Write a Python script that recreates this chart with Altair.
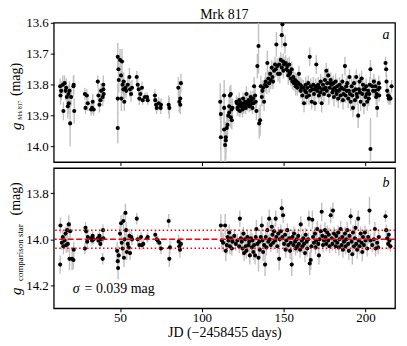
import altair as alt
import pandas as pd

# ---------------- Panel a : Mrk 817 ----------------
jd_a = [
    13.4, 13.6, 14.0, 15.0, 15.4, 16.1, 16.7, 17.1, 17.5, 18.1,
    18.5, 18.7, 19.1, 19.5, 20.1, 21.5, 21.7, 22.0,
    28.5, 28.9, 29.7, 30.3, 32.3, 32.9, 33.3, 33.9, 36.4, 36.8,
    37.4, 38.0, 38.4, 39.4, 39.8, 39.8, 40.0,
    48.6, 48.6, 48.6, 49.0, 49.2, 50.0, 50.6, 50.8, 51.2, 51.6,
    52.0, 52.2, 52.6, 53.3, 53.7, 54.7, 55.7, 56.1, 56.7, 57.3,
    60.2, 60.8, 61.4, 61.8, 62.4, 63.4, 63.8, 65.2, 66.5, 66.9,
    71.3, 71.5, 72.0, 72.4, 73.6, 75.0, 74.8,
    79.7, 80.1,
    85.6, 86.2, 86.8, 87.2, 86.8,
    111.2, 111.6, 111.6, 113.6, 113.6, 113.6, 114.2, 114.6, 114.6, 115.2,
    115.7, 116.1, 116.7, 116.7, 117.1, 117.7, 117.7, 118.1, 118.3, 118.7,
    121.1, 121.7, 122.4, 122.8, 123.2, 123.8, 124.4, 124.8, 125.2, 125.8,
    126.4, 126.8, 127.2, 127.8, 128.5, 128.9, 129.3, 129.9, 130.5, 130.9,
    131.3, 131.9, 132.5, 132.9, 133.3, 133.9, 134.6, 135.0, 135.6, 136.0,
    136.6, 137.0, 137.4, 138.0, 138.6, 139.0, 139.6, 140.0, 140.6, 141.1,
    141.7, 142.1, 142.7, 143.1, 143.5, 144.1, 144.7, 145.1, 145.5, 146.1,
    146.5, 147.2, 147.6, 148.2, 148.8, 148.8, 149.2, 149.6, 149.8, 150.2,
    150.8, 151.2, 151.6, 152.2, 152.8, 153.3, 153.7, 154.3, 154.9, 155.3,
    155.9, 156.3, 156.9, 157.3, 157.9, 158.3, 158.9, 159.3, 160.0, 160.4,
    161.0, 161.4, 162.0, 162.4, 163.0, 163.4, 164.0, 164.4, 165.0, 165.4,
    165.9, 166.5, 167.1, 167.5, 168.1, 168.5, 169.1, 169.5, 169.9, 170.5,
    171.1, 171.5, 171.9, 172.6, 173.2, 173.6, 174.0, 174.6, 175.2, 175.6,
    176.0, 176.6, 177.2, 177.6, 178.0, 178.7, 179.3, 179.7, 180.3, 180.7,
    181.3, 181.7, 182.3, 182.7, 183.3, 183.7, 184.1, 184.8, 185.4, 185.8,
    186.2, 186.8, 187.4, 187.8, 188.2, 188.8, 189.4, 189.8, 190.2, 190.9,
    191.5, 191.9, 192.3, 192.9, 193.5, 193.9, 194.3, 194.9, 195.5, 195.9,
    196.3, 197.0, 197.6, 198.0, 198.4, 199.0, 199.6, 200.0, 200.4, 201.0,
    201.6, 202.0, 202.6, 203.0, 203.0, 204.1, 205.1, 205.7, 206.1, 206.5,
    207.1, 207.7, 208.1, 208.5, 212.2, 212.6, 212.8, 213.2, 213.8, 214.2,
    214.6, 215.2, 215.9,
    121.4, 122.0, 123.5, 124.1, 125.5, 126.1, 127.5, 129.6, 130.2, 131.6,
    152.5, 154.0, 156.0, 158.0, 160.7, 163.7, 166.2, 168.8, 170.2, 172.3,
    174.3, 176.3, 178.4, 180.0, 182.0, 184.4, 186.5, 188.5, 190.5, 192.6,
    194.6, 196.6, 198.7, 200.7, 202.3, 204.6, 206.8, 208.3,
]
mag_a = [
    13.805, 13.835, 13.82, 13.80, 13.885, 13.795, 13.82, 13.81, 13.84, 13.87,
    13.83, 13.86, 13.82, 13.925, 13.84, 13.805, 13.80, 13.885,
    13.83, 13.875, 13.835, 13.86, 13.88, 13.875, 13.855, 13.88, 13.79, 13.835,
    13.865, 13.85, 13.82, 13.84, 13.80, 13.815, 13.83,
    13.71, 13.94, 13.845, 13.75, 13.785, 13.72, 13.77, 13.845, 13.725, 13.80,
    13.815, 13.79, 13.855, 13.81, 13.82, 13.80, 13.775, 13.815, 13.83, 13.81,
    13.775, 13.80, 13.815, 13.845, 13.83, 13.81, 13.85, 13.84, 13.84, 13.85,
    13.835, 13.85, 13.865, 13.875, 13.86, 13.865, 13.875,
    13.865, 13.875,
    13.81, 13.855, 13.845, 13.795, 13.865,
    13.855, 13.895, 13.97, 13.835, 13.875, 13.945, 13.995, 13.97, 13.98, 13.94,
    13.93, 13.90, 13.87, 13.89, 13.835, 13.83, 13.905, 13.88, 13.915, 13.875,
    13.855, 13.875, 13.865, 13.85, 13.885, 13.87, 13.86, 13.88, 13.845, 13.865,
    13.855, 13.875, 13.83, 13.865, 13.85, 13.87, 13.855, 13.84, 13.86, 13.875,
    13.845, 13.805, 13.835, 13.855, 13.885, 13.74, 13.675, 13.925, 13.915, 13.805,
    13.84, 13.82, 13.81, 13.855, 13.80, 13.79, 13.805, 13.73, 13.78, 13.795,
    13.765, 13.785, 13.745, 13.775, 13.79, 13.755, 13.735, 13.75, 13.67, 13.74,
    13.765, 13.735, 13.765, 13.72, 13.64, 13.745, 13.605, 13.725, 13.755, 13.735,
    13.67, 13.73, 13.75, 13.74, 13.77, 13.735, 13.765, 13.78, 13.75, 13.79,
    13.775, 13.795, 13.785, 13.805, 13.79, 13.81, 13.795, 13.765, 13.80, 13.82,
    13.805, 13.835, 13.81, 13.86, 13.82, 13.80, 13.84, 13.81, 13.795, 13.835,
    13.71, 13.805, 13.855, 13.815, 13.80, 13.83, 13.86, 13.805, 13.735, 13.82,
    13.80, 13.835, 13.81, 13.79, 13.86, 13.815, 13.80, 13.83, 13.785, 13.81,
    13.755, 13.795, 13.77, 13.835, 13.81, 13.785, 13.80, 13.825, 13.795, 13.84,
    13.81, 13.79, 13.83, 13.805, 13.845, 13.82, 13.80, 13.835, 13.81, 13.79,
    13.85, 13.815, 13.74, 13.835, 13.805, 13.795, 13.845, 13.82, 13.775, 13.855,
    13.805, 13.835, 13.875, 13.795, 13.85, 13.815, 13.775, 13.84, 13.90, 13.815,
    13.79, 13.855, 13.78, 13.83, 13.80, 13.865, 13.815, 13.84, 13.805, 13.855,
    13.82, 13.845, 13.80, 13.75, 14.008, 13.805, 13.79, 13.82, 13.805, 13.84,
    13.875, 13.815, 13.795, 13.81, 13.73, 13.75, 13.79, 13.82, 13.835, 13.845,
    13.84, 13.845, 13.805,
    13.86, 13.88, 13.86, 13.87, 13.875, 13.86, 13.855, 13.865, 13.85, 13.86,
    13.755, 13.76, 13.79, 13.80, 13.81, 13.825, 13.82, 13.815, 13.81, 13.825,
    13.815, 13.82, 13.795, 13.815, 13.82, 13.815, 13.83, 13.82, 13.83, 13.82,
    13.83, 13.825, 13.815, 13.83, 13.83, 13.82, 13.83, 13.835,
]
err_a = [
    .025, .03, .03, .03, .03, .025, .03, .03, .035, .04,
    .03, .035, .03, .075, .03, .035, .03, .04,
    .02, .02, .02, .025, .02, .02, .025, .02, .02, .025,
    .025, .02, .025, .03, .03, .025, .025,
    .045, .05, .05, .04, .04, .035, .035, .04, .04, .03,
    .03, .03, .03, .025, .025, .025, .03, .025, .025, .025,
    .02, .02, .02, .02, .02, .02, .015, .015, .015, .015,
    .02, .02, .02, .02, .02, .02, .02,
    .03, .035,
    .035, .035, .03, .03, .03,
    .06, .06, .08, .05, .05, .06, .06, .05, .06, .04,
    .04, .035, .03, .03, .03, .03, .035, .03, .03, .03,
    .02, .025, .02, .025, .02, .025, .02, .025, .02, .025,
    .025, .02, .025, .02, .025, .02, .025, .02, .025, .02,
    .025, .03, .03, .025, .03, .04, .09, .05, .05, .035,
    .03, .03, .025, .03, .025, .03, .025, .04, .025, .03,
    .025, .03, .025, .03, .025, .03, .025, .025, .04, .025,
    .025, .025, .03, .025, .04, .025, .03, .025, .025, .025,
    .03, .025, .025, .025, .03, .025, .025, .025, .025, .025,
    .025, .025, .025, .03, .025, .025, .03, .025, .025, .025,
    .025, .025, .025, .03, .025, .025, .025, .025, .025, .03,
    .03, .025, .025, .025, .025, .03, .025, .025, .03, .025,
    .025, .025, .025, .025, .03, .025, .025, .025, .025, .025,
    .025, .025, .025, .03, .025, .025, .025, .025, .025, .03,
    .025, .025, .025, .025, .03, .025, .025, .025, .025, .025,
    .03, .025, .03, .025, .025, .025, .03, .025, .025, .03,
    .025, .025, .03, .025, .025, .025, .025, .025, .04, .025,
    .025, .03, .025, .025, .025, .03, .025, .025, .025, .03,
    .025, .025, .025, .03, .1, .025, .025, .025, .025, .025,
    .03, .025, .025, .025, .02, .025, .025, .025, .025, .02,
    .02, .02, .02,
    .02, .02, .02, .02, .02, .02, .02, .02, .02, .02,
    .02, .02, .02, .02, .02, .02, .02, .02, .02, .02,
    .02, .02, .02, .02, .02, .02, .02, .02, .02, .02,
    .02, .02, .02, .02, .02, .02, .02, .02,
]

# ---------------- Panel b : comparison star ----------------
jd_b = [
    13.4, 13.6, 14.4, 15.0, 15.4, 16.1, 16.7, 17.1, 17.7, 18.1,
    18.7, 19.1, 19.5, 20.7, 21.5, 21.7,
    28.5, 28.9, 29.3, 29.9, 30.3, 32.3, 32.9, 33.3, 33.9, 36.4,
    36.8, 37.4, 38.0, 38.4, 39.4, 39.6, 39.8,
    48.2, 48.6, 48.8, 49.2, 50.0, 50.6, 51.0, 51.6, 52.0, 52.4,
    52.8, 53.3, 53.7, 54.1, 54.7, 55.3, 55.7, 56.1, 56.9, 57.3,
    60.2, 60.8, 61.8, 62.8, 63.4, 64.2, 66.5, 66.9,
    71.5, 72.4, 73.0, 74.0, 75.0,
    79.7, 80.1, 80.5,
    85.8, 86.2, 86.6, 87.2,
    111.6, 112.2, 113.0, 114.2, 114.6, 115.2, 115.7, 116.3, 116.7, 117.1,
    117.7, 118.3, 118.7, 119.8, 120.7, 121.7, 122.8, 123.2, 123.8, 124.4,
    124.8, 125.4, 125.8, 126.4, 126.8, 127.2, 127.8, 128.5, 128.9, 129.3,
    129.9, 130.5, 130.9, 131.5, 131.9, 132.5, 132.9, 133.3, 133.9, 134.6,
    135.0, 135.4, 136.0, 136.6, 137.0, 137.4, 138.0, 138.6, 139.0, 139.4,
    140.0, 140.6, 141.1, 141.5, 142.1, 142.7, 143.1, 143.5, 144.1, 144.7,
    145.1, 145.5, 146.1, 146.7, 147.2, 147.6, 148.2, 148.8, 149.2, 149.6,
    150.2, 150.8, 151.2, 151.6, 152.2, 152.8, 153.3, 153.9, 154.3, 154.9,
    155.3, 155.9, 156.3, 156.9, 157.3, 157.9, 158.3, 158.9, 159.3, 160.0,
    160.4, 161.0, 161.4, 162.0, 162.4, 163.0, 163.4, 164.0, 164.4, 165.0,
    165.4, 165.9, 166.5, 166.9, 167.5, 167.9, 168.5, 169.1, 169.5, 169.9,
    170.5, 171.1, 171.5, 171.9, 172.6, 173.2, 173.6, 174.0, 174.6, 175.2,
    175.6, 176.0, 176.6, 177.2, 177.6, 178.0, 178.7, 179.3, 179.7, 180.1,
    180.7, 181.3, 181.7, 182.1, 182.7, 183.3, 183.7, 184.1, 184.8, 185.4,
    185.8, 186.2, 186.8, 187.4, 187.8, 188.2, 188.8, 189.4, 189.8, 190.2,
    190.9, 191.5, 191.9, 192.3, 192.9, 193.5, 193.9, 194.3, 194.9, 195.5,
    195.9, 196.3, 197.0, 197.6, 198.0, 198.4, 199.0, 199.6, 200.0, 201.0,
    201.6, 202.4, 203.0, 204.1, 205.1, 205.7, 206.1, 207.1, 207.7, 208.1,
    212.2, 212.6, 213.2, 213.8, 214.2, 214.6, 215.2,
]
mag_b = [
    14.11, 13.94, 14.015, 13.99, 14.03, 14.005, 13.975, 14.025, 13.96, 14.02,
    13.935, 14.085, 13.965, 14.085, 14.09, 14.045,
    14.04, 13.95, 13.965, 14.01, 13.99, 13.995, 14.005, 13.985, 14.0, 13.995,
    14.005, 13.985, 14.02, 14.0, 14.085, 13.96, 13.995,
    14.05, 14.095, 14.125, 14.07, 13.975, 13.93, 14.015, 14.04, 13.92, 14.08,
    14.0, 13.885, 13.96, 14.055, 14.02, 14.035, 13.985, 14.06, 13.99, 14.0,
    13.91, 14.0, 14.025, 13.99, 14.025, 14.02, 13.995, 13.99,
    13.98, 14.0, 14.005, 14.015, 14.04,
    13.92, 14.085, 14.035,
    14.01, 14.03, 14.045, 14.02,
    13.94, 14.005, 14.015, 13.94, 14.05, 14.025, 13.99, 14.005, 13.97, 14.03,
    13.995, 14.04, 14.01, 13.985, 14.02, 14.005, 14.03, 13.91, 13.995, 14.01,
    14.04, 13.975, 14.06, 14.0, 14.03, 14.05, 13.99, 14.025, 14.01, 14.07,
    13.995, 14.035, 14.005, 14.055, 14.025, 14.07, 13.99, 13.955, 14.02, 14.08,
    14.01, 14.045, 13.99, 13.94, 14.005, 14.055, 14.025, 14.11, 13.99, 14.035,
    13.96, 14.01, 13.91, 14.0, 14.025, 13.945, 13.98, 14.015, 13.965, 14.005,
    13.91, 13.99, 14.03, 13.975, 14.085, 14.0, 13.965, 13.865, 13.99, 13.895,
    14.02, 13.98, 14.045, 14.005, 13.96, 14.025, 13.995, 14.05, 14.015, 14.11,
    13.99, 14.025, 13.975, 14.01, 14.04, 14.0, 14.03, 13.985, 14.02, 14.045,
    13.935, 14.005, 14.03, 13.995, 14.02, 14.06, 13.98, 14.01, 14.04, 14.0,
    13.91, 14.105, 14.09, 14.03, 13.915, 13.99, 14.015, 13.975, 14.035, 14.005,
    13.955, 14.02, 14.07, 14.0, 13.965, 13.88, 13.985, 14.025, 14.005, 13.96,
    13.99, 14.02, 13.97, 14.005, 13.98, 14.03, 13.895, 13.995, 14.02, 13.875,
    13.975, 14.005, 14.03, 13.985, 14.015, 13.97, 14.035, 14.0, 13.955, 14.025,
    13.99, 14.045, 14.01, 13.975, 14.03, 14.0, 13.96, 14.02, 14.05, 13.985,
    13.90, 14.01, 14.065, 13.97, 14.03, 13.995, 13.95, 14.02, 14.045, 13.91,
    14.005, 14.03, 13.975, 14.015, 14.055, 13.99, 14.025, 13.97, 14.005, 14.04,
    13.99, 13.875, 14.005, 14.025, 14.0, 13.955, 14.04, 14.015, 14.035, 13.99,
    13.90, 13.96, 13.995, 14.02, 13.98, 14.005, 14.03,
]
err_b = [
    .04, .035, .03, .03, .035, .03, .03, .035, .03, .035,
    .04, .05, .04, .05, .04, .035,
    .025, .025, .025, .025, .025, .02, .02, .02, .02, .02,
    .02, .02, .02, .02, .025, .025, .02,
    .04, .045, .05, .04, .035, .035, .035, .04, .035, .04,
    .035, .04, .035, .035, .03, .03, .03, .03, .025, .025,
    .025, .02, .02, .02, .02, .02, .02, .02,
    .02, .02, .02, .02, .025,
    .03, .035, .03,
    .03, .03, .035, .03,
    .05, .04, .04, .05, .045, .04, .035, .035, .035, .035,
    .03, .03, .03, .03, .03, .03, .03, .035, .03, .03,
    .03, .03, .035, .03, .03, .035, .03, .03, .03, .04,
    .03, .03, .03, .035, .03, .04, .03, .04, .03, .06,
    .03, .035, .03, .04, .03, .04, .03, .05, .03, .035,
    .035, .03, .04, .03, .03, .035, .03, .03, .03, .03,
    .035, .03, .03, .03, .05, .03, .03, .04, .03, .035,
    .03, .03, .035, .03, .03, .03, .03, .035, .03, .05,
    .03, .03, .03, .03, .03, .03, .03, .03, .03, .035,
    .035, .03, .03, .03, .03, .04, .03, .03, .035, .03,
    .035, .05, .045, .03, .04, .03, .03, .03, .03, .03,
    .035, .03, .04, .03, .03, .04, .03, .03, .03, .035,
    .03, .03, .03, .03, .03, .03, .035, .03, .03, .035,
    .03, .03, .03, .03, .03, .03, .035, .03, .035, .03,
    .03, .035, .03, .03, .035, .03, .035, .03, .04, .03,
    .035, .03, .045, .03, .035, .03, .035, .03, .04, .035,
    .03, .035, .03, .03, .04, .03, .035, .03, .03, .035,
    .03, .06, .03, .03, .03, .03, .035, .03, .03, .03,
    .025, .025, .025, .025, .025, .025, .025,
]

mean_b = [14.0]
sigma_b = [13.961, 14.039]
x_ticks = [50, 100, 150, 200]
y_ticks_a = [13.6, 13.7, 13.8, 13.9, 14.0]
y_ticks_b = [13.8, 14.0, 14.2]
y_dom_a = [13.6, 14.05]
y_dom_b = [13.69, 14.3]

FONT = "Liberation Serif"
W = 343


def make_df(j, m, e):
    n = min(len(j), len(m), len(e))
    return pd.DataFrame({"jd": j[:n], "mag": m[:n], "err": e[:n]})


def text_layer(txt, x, y, size, angle=0, italic=False, align="center", baseline="middle"):
    kw = dict(font=FONT, fontSize=size, color="black", align=align, baseline=baseline)
    if angle:
        kw["angle"] = angle
    if italic:
        kw["fontStyle"] = "italic"
    return alt.Chart(pd.DataFrame({"t": [txt]})).mark_text(**kw).encode(
        text="t:N", x=alt.value(x), y=alt.value(y)
    )


xscale = alt.Scale(domain=[9.5, 218], nice=False, zero=False)


def panel(df, ydom, yticks, bottom, extra):
    yscale = alt.Scale(domain=ydom, reverse=True, nice=False, zero=False)
    if bottom:
        xaxis = alt.Axis(values=x_ticks, title="JD (\u22122458455 days)", labelPadding=0,
                         titlePadding=1, format="d", labelOverlap=False)
    else:
        xaxis = alt.Axis(values=x_ticks, labels=False, title=None)
    yaxis = alt.Axis(values=yticks, title=None, format=".1f", labelPadding=2,
                     labelOverlap=False, labelFlush=False)
    base = alt.Chart(df)
    bars = base.transform_calculate(
        lo=f"max(datum.mag - datum.err, {ydom[0]})",
        hi=f"min(datum.mag + datum.err, {ydom[1]})",
    ).mark_rule(color="#c0c0c0", strokeWidth=1.4, clip=True).encode(
        x=alt.X("jd:Q", scale=xscale, axis=xaxis),
        y=alt.Y("lo:Q", scale=yscale, axis=yaxis),
        y2="hi:Q",
    )
    pts = base.mark_circle(size=17, color="black", opacity=1, clip=True).encode(
        x=alt.X("jd:Q", scale=xscale, axis=xaxis),
        y=alt.Y("mag:Q", scale=yscale, axis=yaxis),
    )
    return alt.layer(bars, *extra[0], pts, *extra[1])


top_texts = [
    text_layer("Mrk 817", W / 2, -8, 14),
    text_layer("g", -38, 104, 15, angle=270, italic=True),
    text_layer("Mrk 817", -34, 88, 5.5, angle=270),
    text_layer("(mag)", -38, 57, 14, angle=270),
    text_layer("a", 334, 12, 14, italic=True),
]
top = panel(make_df(jd_a, mag_a, err_a), y_dom_a, y_ticks_a, False,
            ([], top_texts)).properties(width=W, height=140)

yscale_b = alt.Scale(domain=y_dom_b, reverse=True, nice=False, zero=False)
dash_line = alt.Chart(pd.DataFrame({"y": mean_b})).mark_rule(
    color="#ff0000", strokeWidth=1.5, strokeDash=[6, 2.5]
).encode(y=alt.Y("y:Q", scale=yscale_b))
dot_line = alt.Chart(pd.DataFrame({"y": sigma_b})).mark_rule(
    color="#ff0000", strokeWidth=1.5, strokeDash=[1.5, 2.5]
).encode(y=alt.Y("y:Q", scale=yscale_b))

bot_texts = [
    text_layer("g", -38, 124, 15, angle=270, italic=True),
    text_layer("comparison star", -34, 85, 9, angle=270),
    text_layer("(mag)", -38, 31, 14, angle=270),
    text_layer("b", 334, 15, 14, italic=True),
    text_layer("\u03c3", 19, 122, 14, italic=True, align="left"),
    text_layer("= 0.039 mag", 31, 122, 14, align="left"),
]
bottom = panel(make_df(jd_b, mag_b, err_b), y_dom_b, y_ticks_b, True,
               ([], [dash_line, dot_line] + bot_texts)).properties(width=W, height=141)

chart = alt.vconcat(top, bottom, spacing=0).properties(
    padding={"left": 0, "top": -2, "right": 2, "bottom": 0}
).configure_view(
    stroke="black", strokeWidth=1.3
).configure_axis(
    labelFont=FONT, labelFontSize=13, labelColor="black",
    titleFont=FONT, titleFontSize=14, titleFontWeight="normal", titleColor="black",
    tickColor="black", tickSize=3.5, tickWidth=1, domain=False, grid=False,
    labelOverlap=False,
)

chart.save("out.html", embed_options={"renderer": "svg", "actions": False})
